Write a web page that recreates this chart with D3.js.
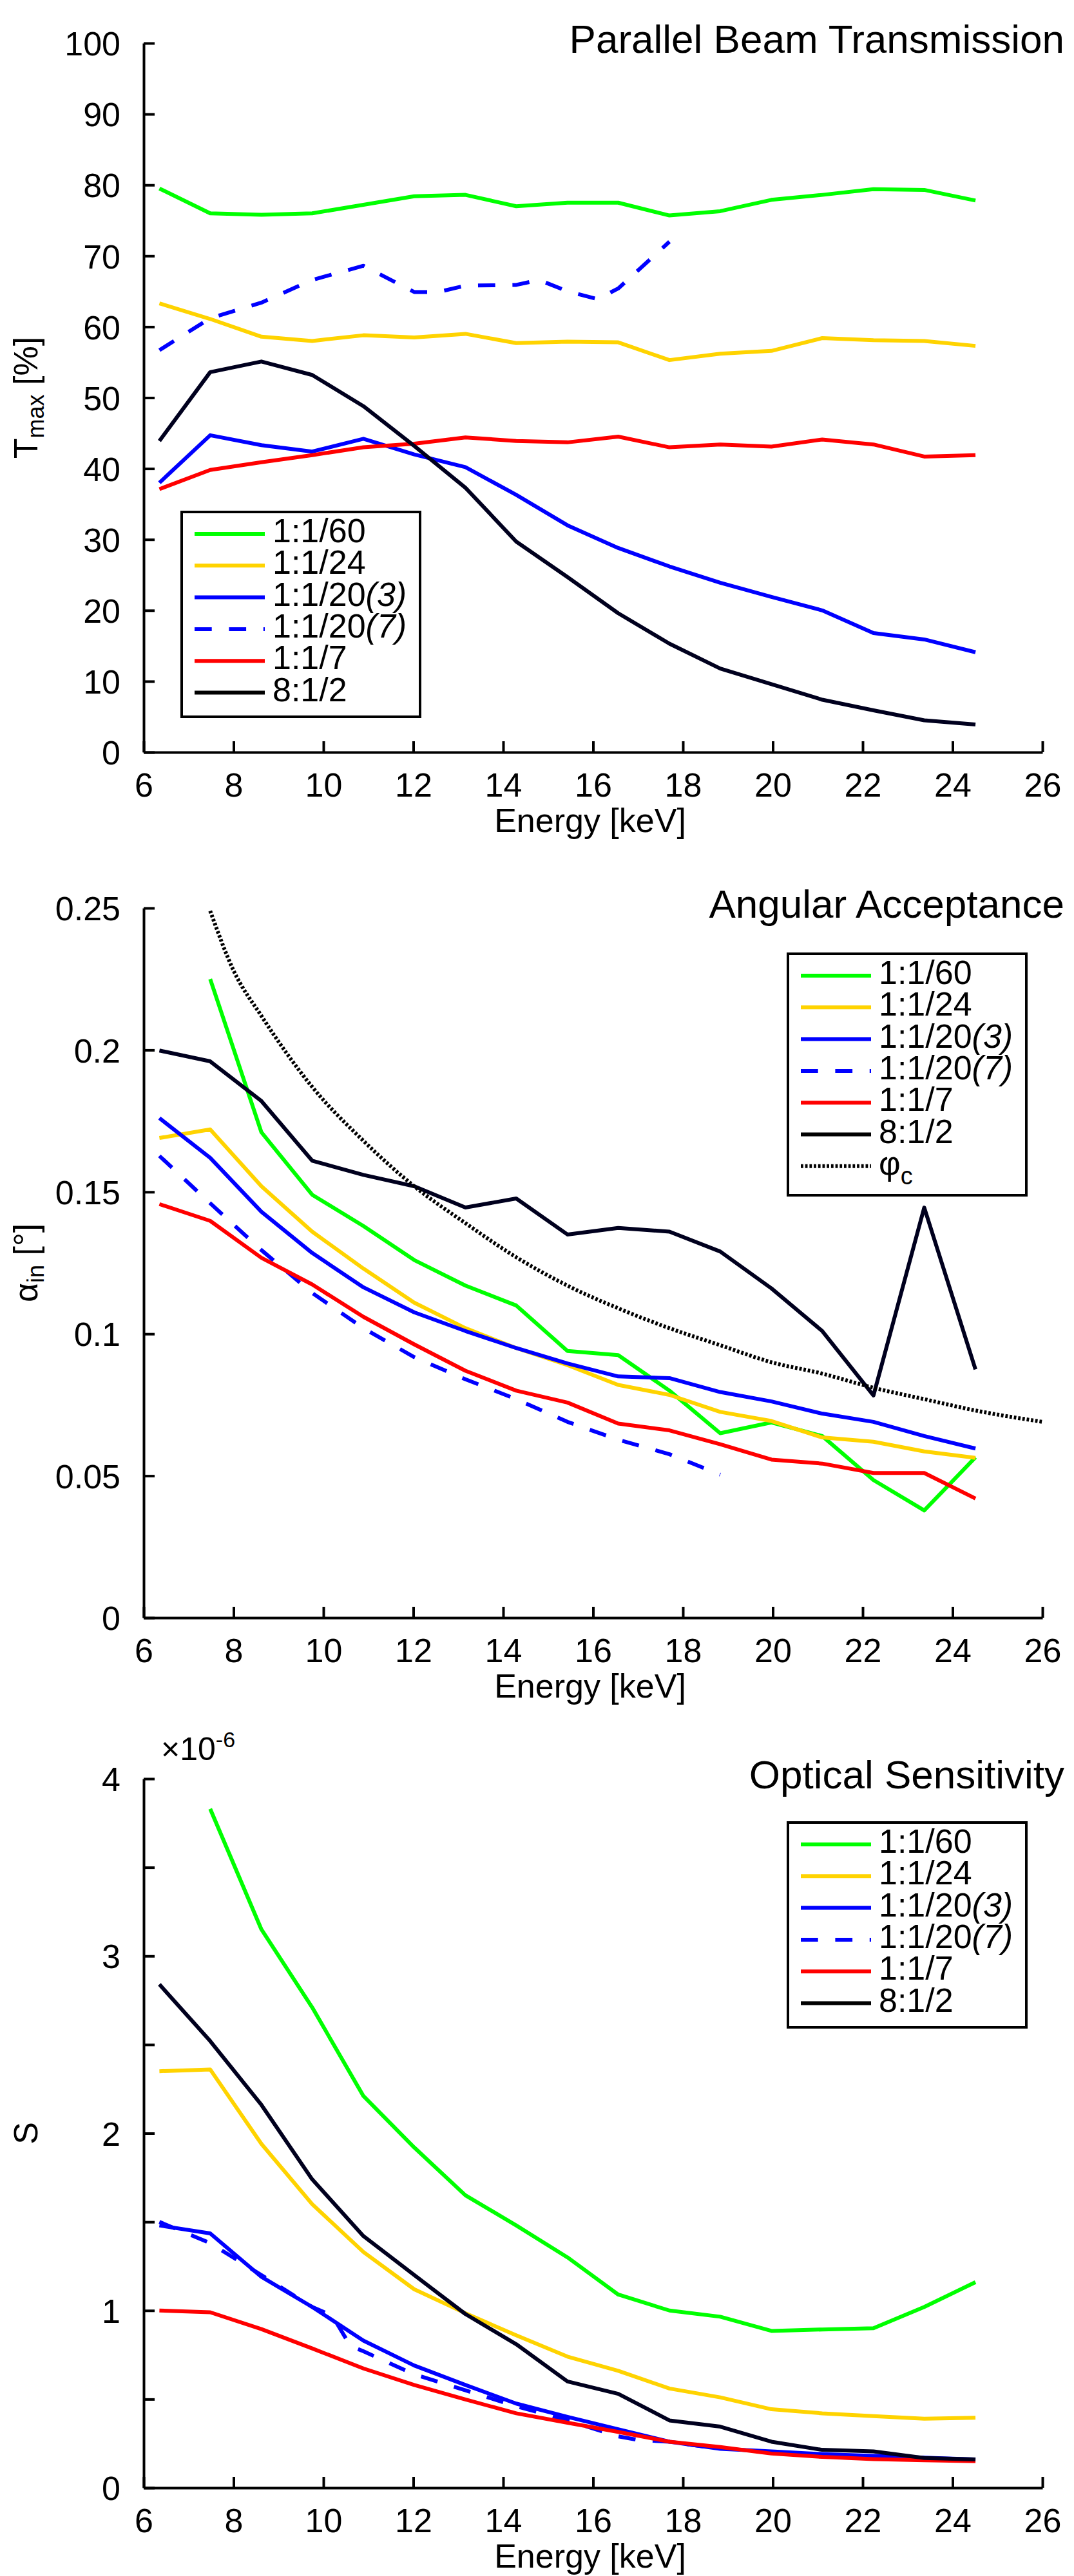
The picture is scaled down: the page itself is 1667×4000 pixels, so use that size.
<!DOCTYPE html>
<html>
<head>
<meta charset="utf-8">
<script src="https://d3js.org/d3.v7.min.js"></script>
<style>
  body { margin: 0; background: #fff; }
  text { font-family: "Liberation Sans", Arial, sans-serif; fill: #000; }
</style>
</head>
<body>
<div id="chart"></div>
<script>
// energies [keV] shared by most series
const energy = [6.35, 7.48, 8.62, 9.75, 10.89, 12.02, 13.16, 14.29, 15.43, 16.56, 17.70, 18.83, 19.97, 21.10, 22.24, 23.37, 24.51];
const xTicks = [6, 8, 10, 12, 14, 16, 18, 20, 22, 24, 26];

// Parallel Beam Transmission, Tmax [%]
const t_60   = [79.5, 76.0, 75.8, 76.0, 77.2, 78.4, 78.6, 77.0, 77.5, 77.5, 75.7, 76.3, 77.9, 78.6, 79.4, 79.3, 77.8];
const t_24   = [63.3, 61.1, 58.6, 58.0, 58.8, 58.5, 59.0, 57.7, 57.9, 57.8, 55.3, 56.2, 56.6, 58.4, 58.1, 58.0, 57.3];
const t_20_3 = [38.0, 44.7, 43.3, 42.4, 44.2, 42.0, 40.2, 36.3, 32.0, 28.8, 26.2, 23.9, 21.9, 20.0, 16.8, 15.9, 14.1];
const t_20_7_energy = [6.35, 7.48, 8.62, 9.75, 10.89, 12.02, 12.55, 13.16, 14.29, 14.80, 15.43, 16.10, 16.56, 17.70];
const t_20_7 = [56.7, 61.2, 63.4, 66.6, 68.6, 64.9, 64.9, 65.8, 65.9, 66.6, 65.0, 63.9, 65.4, 72.0];
const t_7    = [37.1, 39.8, 40.9, 41.9, 43.0, 43.5, 44.4, 43.9, 43.7, 44.5, 43.0, 43.4, 43.1, 44.1, 43.4, 41.7, 41.9];
const t_8    = [43.9, 53.6, 55.1, 53.2, 48.8, 43.2, 37.3, 29.7, 24.7, 19.6, 15.3, 11.8, 9.6, 7.4, 5.9, 4.5, 3.9];
const tTicks = [0, 10, 20, 30, 40, 50, 60, 70, 80, 90, 100];

// Angular Acceptance, alpha_in [deg]
const a_60   = [null, 0.225, 0.171, 0.149, 0.138, 0.126, 0.117, 0.110, 0.094, 0.0925, 0.080, 0.065, 0.0688, 0.064, 0.0485, 0.0378, 0.0565];
const a_24   = [0.169, 0.172, 0.152, 0.136, 0.123, 0.111, 0.102, 0.095, 0.089, 0.082, 0.0785, 0.0725, 0.0693, 0.0635, 0.062, 0.0586, 0.0563];
const a_20_3 = [0.176, 0.162, 0.143, 0.1285, 0.1164, 0.1076, 0.101, 0.095, 0.0896, 0.085, 0.0844, 0.0795, 0.0762, 0.0719, 0.069, 0.064, 0.0596];
const a_20_7 = [0.1627, 0.146, 0.1295, 0.1144, 0.102, 0.0918, 0.084, 0.077, 0.069, 0.0627, 0.0576, 0.0504];
const a_7    = [0.1457, 0.1398, 0.1268, 0.1174, 0.106, 0.0963, 0.087, 0.080, 0.0758, 0.0684, 0.066, 0.0611, 0.0557, 0.0543, 0.051, 0.051, 0.042];
const a_8    = [0.1998, 0.196, 0.182, 0.161, 0.156, 0.152, 0.1445, 0.1477, 0.135, 0.1373, 0.136, 0.129, 0.116, 0.101, 0.0783, 0.1445, 0.0875];
const phi_energy = [7.48, 8.0, 8.62, 9.75, 10.89, 12.02, 13.16, 14.29, 15.43, 16.56, 17.70, 18.83, 19.97, 21.10, 22.24, 23.37, 24.51, 26.0];
const phi_c  = [0.249, 0.228, 0.212, 0.187, 0.168, 0.152, 0.139, 0.127, 0.117, 0.109, 0.102, 0.096, 0.090, 0.086, 0.081, 0.077, 0.073, 0.069];
const aTicks = [0, 0.05, 0.1, 0.15, 0.2, 0.25];

// Optical Sensitivity, S [x1e-6]
const s_60   = [null, 3.83, 3.15, 2.71, 2.21, 1.92, 1.65, 1.48, 1.30, 1.09, 1.00, 0.965, 0.885, 0.893, 0.90, 1.02, 1.16];
const s_24   = [2.35, 2.36, 1.94, 1.60, 1.33, 1.12, 0.985, 0.86, 0.74, 0.66, 0.56, 0.51, 0.443, 0.42, 0.404, 0.39, 0.395];
const s_20_3 = [1.48, 1.435, 1.19, 1.02, 0.83, 0.69, 0.58, 0.475, 0.40, 0.33, 0.26, 0.22, 0.205, 0.19, 0.18, 0.17, 0.16];
const s_20_7_energy = [6.35, 7.48, 8.62, 9.75, 10.20, 10.60, 10.89, 12.02, 13.16, 14.29, 15.43, 16.56, 17.00, 17.70, 18.83];
const s_20_7 = [1.50, 1.38, 1.20, 1.02, 0.97, 0.80, 0.77, 0.64, 0.55, 0.46, 0.38, 0.29, 0.27, 0.26, 0.22];
const s_7    = [1.00, 0.99, 0.895, 0.786, 0.673, 0.58, 0.498, 0.42, 0.367, 0.315, 0.26, 0.23, 0.193, 0.174, 0.162, 0.155, 0.15];
const s_8    = [2.84, 2.52, 2.16, 1.74, 1.42, 1.20, 0.98, 0.81, 0.60, 0.53, 0.38, 0.345, 0.26, 0.214, 0.205, 0.168, 0.16];
const sTicks = [0, 0.5, 1, 1.5, 2, 2.5, 3, 3.5, 4];

// legend labels: [plain part, italic part]
const labels = [["1:1/60", ""], ["1:1/24", ""], ["1:1/20", "(3)"], ["1:1/20", "(7)"], ["1:1/7", ""], ["8:1/2", ""]];
const colors = ["#00ff00", "#ffd300", "#0000ff", "#0000ff", "#ff0000", "#00001e"];
const dashes = [null, null, null, "26.7,26.7", null, null];
const dotted = "3.8,2.9";

const svg = d3.select("#chart").append("svg")
    .attr("width", 1667)
    .attr("height", 4000);

const x = d3.scaleLinear().domain([6, 26]).range([223, 1618]);

function zip(xs, ys) {
    return xs.map((e, i) => [e, ys[i]]).filter(d => d[1] != null);
}

function drawPanel(p) {
    const y = d3.scaleLinear().domain(p.yDomain).range([p.bottom, p.top]);
    const g = svg.append("g");

    // x axis, ticks inside
    const gx = g.append("g")
        .attr("transform", "translate(0," + p.bottom + ")")
        .call(d3.axisBottom(x).tickValues(xTicks).tickSizeInner(-17).tickSizeOuter(0).tickPadding(32));
    // y axis
    const gy = g.append("g")
        .attr("transform", "translate(223,0)")
        .call(d3.axisLeft(y).tickValues(p.ticks).tickSizeInner(-17).tickSizeOuter(0)
            .tickPadding(36).tickFormat(p.format));
    [gx, gy].forEach(a => {
        a.attr("font-size", 52).attr("font-family", null);
        a.selectAll("path, line").attr("stroke", "#000").attr("stroke-width", 4);
    });
    gy.selectAll("text").attr("dy", "0.36em");

    // series
    const line = d3.line().x(d => x(d[0])).y(d => y(d[1]));
    p.series.forEach(s => {
        g.append("path")
            .datum(s.data)
            .attr("d", line.curve(s.curve || d3.curveLinear))
            .attr("fill", "none")
            .attr("stroke", s.color)
            .attr("stroke-width", 6)
            .attr("stroke-linejoin", "round")
            .attr("stroke-dasharray", s.dash);
    });

    // title
    g.append("text")
        .attr("x", 1652).attr("y", p.titleY)
        .attr("text-anchor", "end")
        .attr("font-size", 62)
        .text(p.title);

    // x label
    g.append("text")
        .attr("x", 916).attr("y", p.bottom + 124)
        .attr("text-anchor", "middle")
        .attr("font-size", 52)
        .text("Energy [keV]");

    // y label
    const yl = g.append("text")
        .attr("transform", "translate(58," + (p.top + p.bottom) / 2 + ") rotate(-90)")
        .attr("text-anchor", "middle")
        .attr("font-size", 52);
    p.ylabel(yl);

    // legend
    const L = p.legend;
    const lg = g.append("g").attr("transform", "translate(" + L.x + "," + L.y + ")");
    lg.append("rect")
        .attr("width", 370).attr("height", L.h)
        .attr("fill", "#fff").attr("stroke", "#000").attr("stroke-width", 4);
    L.items.forEach((it, i) => {
        const ry = 34 + i * 49.3;
        lg.append("line")
            .attr("x1", 20).attr("x2", 129).attr("y1", ry).attr("y2", ry)
            .attr("stroke", it.color === "#00001e" ? "#000" : it.color)
            .attr("stroke-width", 6)
            .attr("stroke-dasharray", it.dash);
        const t = lg.append("text").attr("x", 141).attr("y", ry + 13).attr("font-size", 52);
        it.label(t);
    });
    return y;
}

function seriesFor(sets) {
    return sets.map((d, i) => ({data: d, color: colors[i], dash: dashes[i]}));
}

function legendItems() {
    return labels.map((l, i) => ({
        color: colors[i], dash: dashes[i],
        label: t => {
            t.append("tspan").text(l[0]);
            if (l[1]) t.append("tspan").attr("font-style", "italic").text(l[1]);
        }
    }));
}

// panel 1
drawPanel({
    top: 67, bottom: 1168, yDomain: [0, 100], ticks: tTicks, format: d3.format("d"),
    title: "Parallel Beam Transmission", titleY: 82,
    series: seriesFor([zip(energy, t_60), zip(energy, t_24), zip(energy, t_20_3),
        zip(t_20_7_energy, t_20_7), zip(energy, t_7), zip(energy, t_8)]),
    ylabel: t => {
        t.append("tspan").text("T");
        t.append("tspan").attr("font-size", 36).attr("dy", 10).text("max");
        t.append("tspan").attr("dy", -10).text(" [%]");
    },
    legend: {x: 282, y: 795, h: 318, items: legendItems()}
});

// panel 2
const phiItem = {
    color: "#000", dash: dotted,
    label: t => {
        t.append("tspan").text("φ");
        t.append("tspan").attr("font-size", 38).attr("dy", 15).text("c");
    }
};
const p2series = seriesFor([zip(energy, a_60), zip(energy, a_24), zip(energy, a_20_3),
    zip(energy, a_20_7), zip(energy, a_7), zip(energy, a_8)]);
p2series.push({data: zip(phi_energy, phi_c), color: "#000", dash: dotted, curve: d3.curveMonotoneX});
drawPanel({
    top: 1410, bottom: 2512, yDomain: [0, 0.25], ticks: aTicks, format: d => d3.format("~g")(d),
    title: "Angular Acceptance", titleY: 1425,
    series: p2series,
    ylabel: t => {
        t.append("tspan").text("α");
        t.append("tspan").attr("font-size", 36).attr("dy", 10).text("in");
        t.append("tspan").attr("dy", -10).text(" [°]");
    },
    legend: {x: 1223, y: 1481, h: 375, items: legendItems().concat([phiItem])}
});

// panel 3
drawPanel({
    top: 2762, bottom: 3863, yDomain: [0, 4], ticks: sTicks,
    format: d => Number.isInteger(d) ? String(d) : "",
    title: "Optical Sensitivity", titleY: 2777,
    series: seriesFor([zip(energy, s_60), zip(energy, s_24), zip(energy, s_20_3),
        zip(s_20_7_energy, s_20_7), zip(energy, s_7), zip(energy, s_8)]),
    ylabel: t => { t.text("S"); },
    legend: {x: 1223, y: 2830, h: 318, items: legendItems()}
});

// exponent label
const ex = svg.append("text").attr("x", 250).attr("y", 2733).attr("font-size", 50);
ex.append("tspan").text("×10");
ex.append("tspan").attr("font-size", 34).attr("dy", -20).text("-6");
</script>
</body>
</html>
